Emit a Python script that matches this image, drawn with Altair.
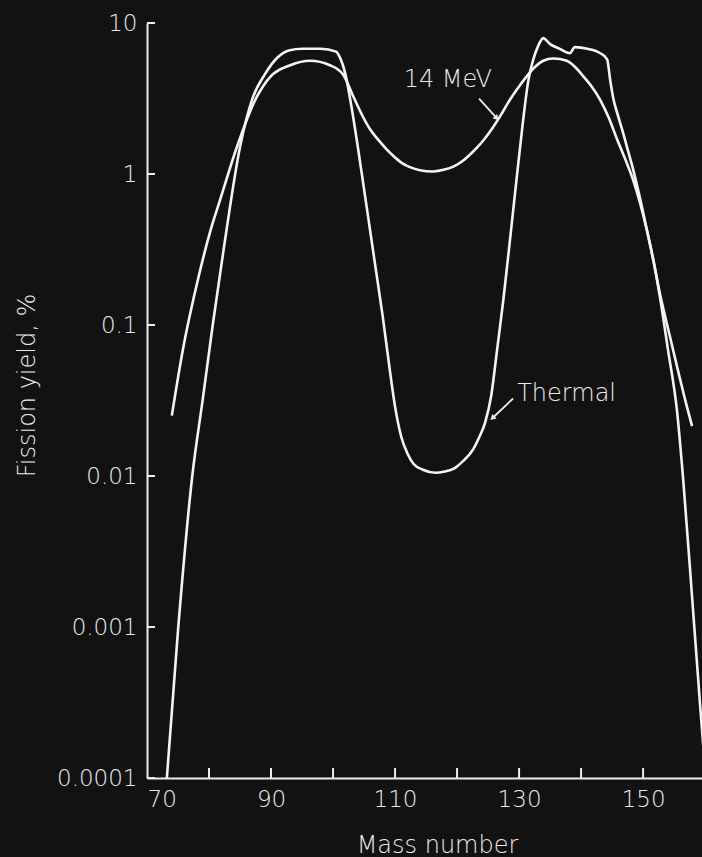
import altair as alt
import pandas as pd

# Mass number / fission yield (%)
thermal_A = [73.2, 75.0, 77.3, 79.0, 80.6, 82.5, 85.0, 87.0, 89.0, 91.0, 93.0, 95.0, 98.0, 100.5,
             101.0, 102.0, 103.0, 104.0, 105.0, 106.0, 107.0, 108.0, 109.0, 110.0, 111.0, 112.0, 113.0,
             114.5, 116.5, 118.0, 119.5, 121.0, 122.5, 123.5, 124.5, 125.5, 126.5, 127.5, 128.5, 129.5,
             130.5, 131.5, 132.3, 133.0, 133.9, 135.0, 136.5, 138.2, 139.0, 141.0, 143.1, 144.2, 144.7,
             145.2, 146.0, 146.8, 147.6, 148.4, 149.5, 150.6, 151.7, 152.7, 154.0, 155.5, 156.5, 157.9,
             159.2, 160.1]
thermal_y = [0.0001, 0.00095, 0.01, 0.0324, 0.1, 0.347, 1.51, 3.16, 4.57, 5.89, 6.61, 6.76, 6.76, 6.46,
             6.03, 4.57, 2.75, 1.51, 0.794, 0.417, 0.219, 0.115, 0.0562, 0.0288, 0.0182, 0.0141, 0.0120,
             0.0110, 0.0105, 0.0107, 0.0112, 0.0126, 0.0148, 0.0178, 0.0224, 0.0339, 0.0708, 0.151, 0.355, 0.851,
             2.0, 4.17, 5.75, 6.92, 7.94, 7.24, 6.76, 6.31, 6.92, 6.76, 6.31, 5.75, 4.17,
             3.16, 2.40, 1.86, 1.41, 1.07, 0.692, 0.427, 0.263, 0.155, 0.0692, 0.0263, 0.00912, 0.00158,
             0.000302, 0.0001]

mev14_A = [74.0, 75.8, 78.1, 80.2, 81.8, 84.5, 87.7, 89.8, 93.1, 96.3, 99.5, 101.6, 103.2, 104.7, 106.0,
           107.1, 108.5, 109.7, 111.0, 112.4, 114.0, 116.1, 118.0, 119.4, 121.0, 122.6, 124.2, 125.8,
           127.2, 128.5, 130.0, 131.3, 132.6, 133.9, 135.5, 137.7, 139.0, 140.3, 141.7, 143.1, 144.5,
           145.8, 147.1, 148.4, 149.5, 150.6, 151.7, 152.7, 154.0, 155.5, 157.0, 157.9]
mev14_y = [0.0251, 0.0692, 0.191, 0.417, 0.676, 1.51, 3.24, 4.37, 5.25, 5.62, 5.25, 4.57, 3.31, 2.45, 1.97,
           1.72, 1.48, 1.32, 1.19, 1.11, 1.06, 1.04, 1.07, 1.12, 1.23, 1.41, 1.66, 2.04,
           2.51, 3.09, 3.80, 4.47, 5.13, 5.62, 5.82, 5.62, 5.13, 4.47, 3.80, 3.09, 2.34,
           1.70, 1.26, 0.912, 0.646, 0.427, 0.263, 0.162, 0.0955, 0.0525, 0.0295, 0.0214]

x_tick_values = [80, 90, 100, 110, 120, 130, 140, 150]
x_label_values = [70, 90, 110, 130, 150]
y_decades = [0.0001, 0.001, 0.01, 0.1, 1, 10]

label_text = ["14 MeV", "Thermal"]
label_A = [118.5, 129.7]
label_y = [4.22, 0.0347]
label_align = ["center", "left"]

arrow_A = [123.55, 129.03]
arrow_y = [3.16, 0.0326]
arrow_A2 = [126.29, 125.81]
arrow_y2 = [2.37, 0.0244]
arrow_angle = [138, 226]

FONT = "DejaVu Sans"
FG = "#ececec"
BG = "#121212"

W, H = 555, 755

lines = pd.concat([
    pd.DataFrame({"A": thermal_A, "y": thermal_y, "series": "Thermal"}),
    pd.DataFrame({"A": mev14_A, "y": mev14_y, "series": "14 MeV"}),
])

xscale = alt.Scale(domain=[70, 159.5], nice=False, zero=False)
yscale = alt.Scale(type="log", domain=[0.0001, 10], nice=False)

xaxis = alt.Axis(values=x_label_values, ticks=False, grid=False, domainColor=FG, domainWidth=2,
                 labelColor=FG, labelFont=FONT, labelFontSize=23, labelFontWeight=300,
                 labelFlush=True, labelPadding=10,
                 title="Mass number", titleColor=FG, titleFont=FONT, titleFontSize=24,
                 titleFontWeight=300, titleX=290, titleY=74, titleBaseline="alphabetic",
                 titleAlign="center")
yaxis = alt.Axis(values=y_decades, format="~g", ticks=False, grid=False, domainColor=FG, domainWidth=2,
                 labelColor=FG, labelFont=FONT, labelFontSize=23, labelFontWeight=300, labelPadding=10,
                 title="Fission yield, %", titleColor=FG, titleFont=FONT, titleFontSize=24,
                 titleFontWeight=300, titleAngle=270, titleX=-120, titleY=362,
                 titleAlign="center", titleBaseline="middle")

line_layer = alt.Chart(lines).mark_line(color="#f4f4f4", strokeWidth=2.6, clip=True,
                                        interpolate="monotone").encode(
    x=alt.X("A:Q", scale=xscale, axis=xaxis),
    y=alt.Y("y:Q", scale=yscale, axis=yaxis),
    detail="series:N",
)

xt = alt.Chart(pd.DataFrame({"v": x_tick_values})).mark_rule(color=FG, strokeWidth=2).encode(
    x=alt.X("v:Q", scale=xscale), y=alt.value(H), y2=alt.value(H - 10)
)
yt = alt.Chart(pd.DataFrame({"v": y_decades})).mark_rule(color=FG, strokeWidth=2).encode(
    y=alt.Y("v:Q", scale=yscale), x=alt.value(0), x2=alt.value(8)
)

labels = pd.DataFrame({"t": label_text, "A": label_A, "y": label_y, "al": label_align})
lab_c = alt.Chart(labels[labels.al == "center"]).mark_text(
    color=FG, font=FONT, fontSize=24, fontWeight=300, align="center", baseline="middle").encode(
    x=alt.X("A:Q", scale=xscale), y=alt.Y("y:Q", scale=yscale), text="t:N")
lab_l = alt.Chart(labels[labels.al == "left"]).mark_text(
    color=FG, font=FONT, fontSize=24, fontWeight=300, align="left", baseline="middle").encode(
    x=alt.X("A:Q", scale=xscale), y=alt.Y("y:Q", scale=yscale), text="t:N")

arrows = pd.DataFrame({"A": arrow_A, "y": arrow_y, "A2": arrow_A2, "y2": arrow_y2, "ang": arrow_angle})
arr = alt.Chart(arrows).mark_rule(color=FG, strokeWidth=1.8).encode(
    x=alt.X("A:Q", scale=xscale), y=alt.Y("y:Q", scale=yscale), x2="A2:Q", y2="y2:Q")
heads = alt.Chart(arrows).mark_point(shape="triangle", filled=True, color=FG, size=40, opacity=1).encode(
    x=alt.X("A2:Q", scale=xscale), y=alt.Y("y2:Q", scale=yscale),
    angle=alt.Angle("ang:Q", scale=None))

chart = alt.layer(line_layer, xt, yt, lab_c, lab_l, arr, heads).properties(
    width=W, height=H,
    autosize=alt.AutoSizeParams(type="none"),
    padding={"left": 147, "top": 23, "right": 0, "bottom": 79},
    background=BG,
).configure_view(stroke=None)

chart.save("out.html", embed_options={"renderer": "svg", "actions": False})
